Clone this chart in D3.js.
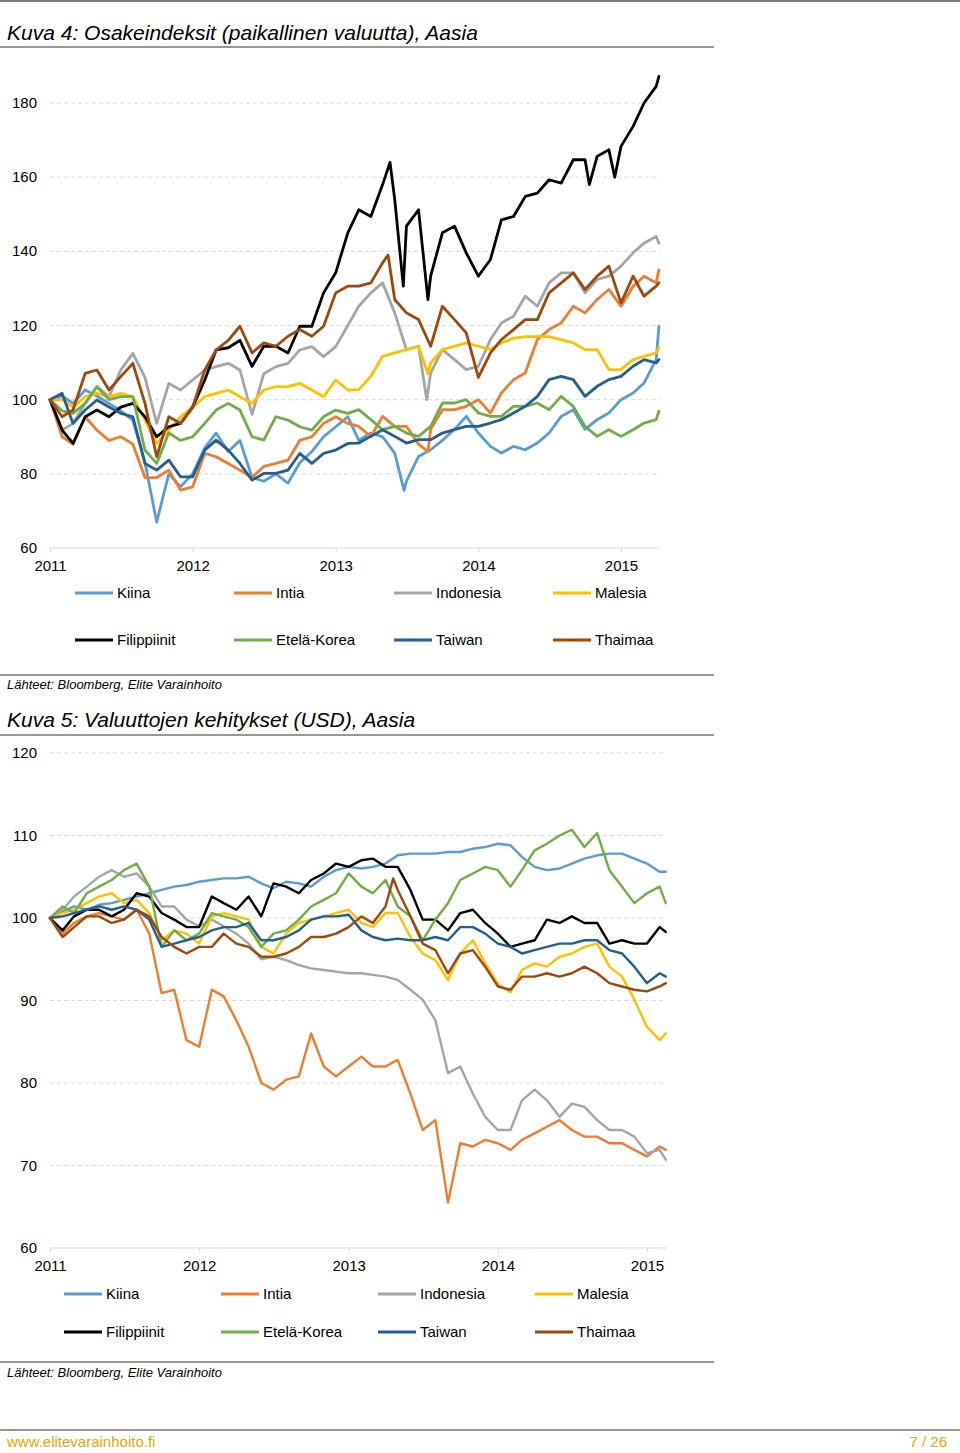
<!DOCTYPE html>
<html><head><meta charset="utf-8">
<script src="https://cdn.jsdelivr.net/npm/d3@7"></script>
<style>
body{margin:0;background:#fff}
svg{display:block}
text{font-family:"Liberation Sans",Arial,Helvetica,sans-serif}
</style>
</head><body>
<svg id="page" width="960" height="1453"></svg>
<script>
// ---------- DATA ----------
const months = ["2011-01","2011-02","2011-03","2011-04","2011-05","2011-06","2011-07","2011-08","2011-09","2011-10","2011-11","2011-12",
"2012-01","2012-02","2012-03","2012-04","2012-05","2012-06","2012-07","2012-08","2012-09","2012-10","2012-11","2012-12",
"2013-01","2013-02","2013-03","2013-04","2013-05","2013-06","2013-07","2013-08","2013-09","2013-10","2013-11","2013-12",
"2014-01","2014-02","2014-03","2014-04","2014-05","2014-06","2014-07","2014-08","2014-09","2014-10","2014-11","2014-12",
"2015-01","2015-02","2015-03","2015-04"];
const lastDay1 = "2015-04-08";
const lastDay2 = "2015-02-16";

const seriesNames = ["Kiina","Intia","Indonesia","Malesia","Filippiinit","Etelä-Korea","Taiwan","Thaimaa"];
const seriesColors = ["#5B9BD5","#ED7D31","#A5A5A5","#FFC000","#000000","#70AD47","#255E91","#9E480E"];
const yearTicks = ["2011","2012","2013","2014","2015"];
const yTicks1 = [60,80,100,120,140,160,180];
const yTicks2 = [60,70,80,90,100,110,120];

// Kuva 4: stock indices (local currency), month starts + last day
const stockKiina = [100,101,99,102.6,101,99,97,94.5,83,67,80,76.5,80,87,91,86,89,79,78,80,77.5,83,86,90,92.7,95.4,89,91,90,85.6,78,84.7,86.5,89,92,95.5,91,87.4,85.6,87.4,86.5,88.3,91,95.5,97.3,92,94.6,96.4,100,101.8,104.5,110.8,119.8];
const stockIntia = [100,90,88,95.4,91.8,89,90,88,79,79,81,75.6,76.5,85.5,84.6,82.8,81,79,82,82.8,83.7,89,90,93.6,95.4,93.6,92.8,90,95.5,92.8,92.8,88,92,97.3,97.3,98.2,100,96.4,101.8,105.4,107.2,116.2,118.9,120.7,125.2,123.4,127,129.7,125.2,130.6,133.3,131.5,135];
const stockIndonesia = [100,91.8,93.6,99,103.5,100.8,108,112.5,106,93.6,104.4,102.6,105.3,108,108.9,109.8,108,96,107,108.9,109.8,113.4,114.3,111.6,114.3,120,125.2,128.8,131.5,123.4,113.5,114.4,107.2,113.5,110.8,108.1,109,116.2,120.7,122.5,127.9,125.2,131.5,134.2,134.2,128.8,132.4,133.3,136,139.6,142.2,144,142.2];
const stockMalesia = [100,100,98,100.8,101.7,100.8,101.7,100.8,94.5,88.2,91.8,95.4,98,100.8,101.7,102.6,100.8,99,102.6,103.5,103.5,104.4,102.6,100.8,105.3,102.6,102.7,106.3,111.7,112.6,113.5,114.4,109.9,113.5,114.4,115.3,114.4,113.5,115.3,116.6,117,117,117,116.2,115.3,113.5,113.5,108.1,108.1,110.8,111.7,112.6,114];
const stockFilippiinit = [100,91.8,88.2,95.4,97.2,95.4,98,99,95.4,90,92.7,93.6,98,105.3,113.4,114,116,109,114.4,114.4,112.6,119.8,119.8,128.8,134.2,145,151.2,149.4,158,154,146.8,151.2,133.3,145,146.8,139.6,133.3,137.8,148.5,149.4,154.8,155.7,159.3,158.4,164.7,164.7,165.6,167.4,168.3,173.7,180,184.5,187.2];
const stockEtelaKorea = [100,97,96.3,99,103.5,100,100.8,100.8,86.4,82.8,91,89,90,93.6,97.2,99,97.2,90,89.1,95.4,94.5,92.7,91.8,95.4,97.2,96.3,97.3,94.6,91.9,92.8,91,90.1,92.8,99.1,99.1,100,96.4,95.5,95.5,98.2,98.2,99.1,97.3,100.9,98.2,92.8,90.1,91.9,90.1,91.9,93.7,94.6,96.9];
const stockTaiwan = [100,101.7,93.6,97.2,99.9,98,96.3,95.4,82.8,81,83.7,79.2,79.2,86.4,89.1,86.4,82.8,78.3,80.1,80.1,81,85.5,82.8,85.5,86.4,88.2,88.3,90.1,91.9,90.1,88.3,89.2,89.2,91,91.9,92.8,92.8,93.7,94.6,96.4,98.2,100.9,105.4,106.3,105.4,100.9,103.6,105.4,106.3,109,110.8,109.9,110.8];
const stockThaimaa = [100,95.4,97.2,107.1,108,102.6,106.2,109.8,99,84.6,95.4,93.6,98,108,113.4,116,119.8,112.6,115.3,114.4,117.1,118.9,117.1,119.8,128.8,130.6,130.6,131.5,136.9,127,123.4,121.6,114.4,125.2,121.6,118,106,112.6,116.2,118.9,121.6,121.6,128.8,131.5,134.2,129.7,133.3,136,126.1,133.3,127.9,130.6,131.5];
// extreme points between month starts
const stockExtremes = [
  ["Filippiinit","2013-05-20",164],
  ["Filippiinit","2013-06-23",130.6],
  ["Filippiinit","2013-08-25",127],
  ["Filippiinit","2014-10-12",158],
  ["Filippiinit","2014-12-16",160],
  ["Thaimaa","2013-05-15",139],
  ["Indonesia","2013-08-22",100],
  ["Intia","2013-08-25",86],
  ["Malesia","2013-08-25",107],
  ["Kiina","2013-06-25",75.5]
];

// Kuva 5: currencies vs USD
const fxKiina = [100,100.8,101.4,101,101.6,101.8,102.2,102.6,103,103.4,103.8,104,104.4,104.6,104.8,104.8,105,104.2,103.6,104.4,104.2,103.8,105,105.8,106.2,106,106.2,106.6,107.6,107.8,107.8,107.8,108,108,108.4,108.6,109,108.8,107.4,106.2,105.8,106,106.6,107.2,107.6,107.8,107.8,107.2,106.6,105.6,105.6];
const fxIntia = [100,98.1,99.4,100.2,100.6,100.2,99.8,101,98.1,90.9,91.3,85.2,84.4,91.3,90.5,87.6,84.4,80,79.2,80.4,80.8,86,82,80.8,82,83.2,82,82,82.8,78.7,74.3,75.5,65.5,72.7,72.3,73.1,72.7,71.9,73.1,73.9,74.7,75.5,74.3,73.5,73.5,72.7,72.7,71.9,71.1,72.3,71.9];
const fxIndonesia = [100,101,102.6,103.8,105,105.8,105,105.4,103.8,101.4,101.4,99.8,99,99.8,99,98.1,96.9,95,95.3,94.9,94.3,93.9,93.7,93.5,93.3,93.3,93.1,92.9,92.5,91.3,90.1,87.6,81.2,82,78.7,75.9,74.3,74.3,77.9,79.2,77.9,75.9,77.5,77.1,75.5,74.3,74.3,73.5,71.5,71.9,70.7];
const fxMalesia = [100,100.6,101,101.8,102.6,103,101.8,102.2,100.6,97.3,98.5,98.1,96.9,100.2,100.6,100.2,99.8,96.5,95.7,98.1,99.4,99.8,100.2,100.6,101,99.4,98.9,100.6,100.6,97.7,95.7,94.9,92.5,95.7,97.3,94.5,92,91,93.7,94.5,94.1,95.3,95.7,96.5,96.9,94.1,92.9,90.1,86.8,85.2,86];
const fxFilippiinit = [100,98.5,100.2,101,101,100.2,101,103,102.6,100.6,99.8,98.9,98.9,102.6,101.8,101,102.6,100.2,104.2,103.8,103,104.6,105.4,106.6,106.2,107,107.2,106.2,106.2,103.4,99.8,99.8,98.5,100.6,101,99.4,98.1,96.5,96.9,97.3,99.8,99.4,100.2,99.4,99.4,96.9,97.3,96.9,96.9,98.9,98.3];
const fxEtelaKorea = [100,101.4,100.6,103,103.8,104.6,105.8,106.6,103.8,96.5,98.5,97.3,98.1,100.6,100.2,99.8,98.9,96.5,98.1,98.5,99.8,101.4,102.2,103,105.4,103.8,103,104.6,101.4,100.2,97.3,99.8,101.8,104.6,105.4,106.2,105.8,103.8,105.8,108.2,109,110,110.7,108.6,110.3,105.8,103.8,101.8,103,103.8,101.8];
const fxTaiwan = [100,100.2,100.6,101,101.4,101,101.4,101,99.8,96.5,96.9,97.3,97.7,98.5,98.9,98.9,99.4,97.3,97.3,97.7,98.5,99.8,100.2,100.2,100.4,98.5,97.7,97.3,97.5,97.3,97.3,97.7,97.3,98.9,98.9,98.1,96.9,96.5,95.7,96.1,96.5,96.9,96.9,97.3,97.3,96.1,95.7,94.1,92.1,93.3,92.9];
const fxThaimaa = [100,97.7,98.9,100.2,100.2,99.4,99.8,101,100.2,97.7,96.5,95.7,96.5,96.5,98.1,96.9,96.5,95.3,95.3,95.7,96.5,97.7,97.7,98.1,98.9,100.2,99.4,101.4,103.4,100.2,96.9,96.1,93.3,95.7,96.1,94.1,91.7,91.3,92.9,92.9,93.3,92.9,93.3,94.1,93.3,92.1,91.7,91.3,91.1,91.7,92.1];
const fxExtremes = [
  ["Thaimaa","2013-04-20",104.8]
];

// ---------- DRAW ----------
const svg = d3.select("#page");
const pm = d3.timeParse("%Y-%m"), pd = d3.timeParse("%Y-%m-%d");
const dates1 = months.map(pm).concat([pd(lastDay1)]);
const dates2 = months.slice(0, 50).map(pm).concat([pd(lastDay2)]);
const FONT = '"Liberation Sans",Arial,Helvetica,sans-serif';

svg.append("line").attr("x1",0).attr("x2",960).attr("y1",1).attr("y2",1).attr("stroke","#7f7f7f").attr("stroke-width",2);

function titleBlock(text, baseline, lineY) {
  svg.append("text").attr("x",7).attr("y",baseline).attr("font-size",21).attr("font-style","italic").attr("fill","#000").text(text);
  svg.append("line").attr("x1",0).attr("x2",714).attr("y1",lineY).attr("y2",lineY).attr("stroke","#333").attr("stroke-width",1.2);
}
function sourceBlock(lineY, baseline) {
  svg.append("line").attr("x1",0).attr("x2",714).attr("y1",lineY).attr("y2",lineY).attr("stroke","#333").attr("stroke-width",1.2);
  svg.append("text").attr("x",7).attr("y",baseline).attr("font-size",13).attr("font-style","italic").attr("fill","#000").text("Lähteet: Bloomberg, Elite Varainhoito");
}

function drawChart(cfg) {
  const g = svg.append("g");
  const x = d3.scaleTime().domain([pm("2011-01"), pm("2015-01")]).range([50, cfg.x2015]);
  const y = d3.scaleLinear().domain(cfg.yDomain).range(cfg.yRange);
  const xEnd = cfg.plotRight;

  g.selectAll(".grid").data(cfg.yTicks.slice(1)).enter().append("line")
    .attr("x1",50).attr("x2",xEnd).attr("y1",d=>y(d)).attr("y2",d=>y(d))
    .attr("stroke","#d9d9d9").attr("stroke-width",1).attr("stroke-dasharray","4,3");
  g.append("line").attr("x1",50).attr("x2",xEnd).attr("y1",y(cfg.yDomain[0])).attr("y2",y(cfg.yDomain[0]))
    .attr("stroke","#d9d9d9").attr("stroke-width",1);

  g.selectAll(".yl").data(cfg.yTicks).enter().append("text")
    .attr("x",37).attr("y",d=>y(d)+5).attr("text-anchor","end").attr("font-size",15).attr("fill","#000").text(d=>d);

  const ax = d3.axisBottom(x).tickValues(yearTicks.map(d=>pm(d+"-01"))).tickSize(4).tickFormat(d3.timeFormat("%Y"));
  const axg = g.append("g").attr("transform",`translate(0,${y(cfg.yDomain[0])})`).call(ax);
  axg.select(".domain").remove();
  axg.selectAll(".tick line").attr("stroke","#d9d9d9");
  axg.selectAll(".tick text").attr("font-size",15).attr("font-family",FONT).attr("fill","#000").attr("dy",0).attr("y",cfg.xLabelDy);

  const line = d3.line().x(d=>x(d[0])).y(d=>y(d[1]));
  cfg.series.forEach((vals, i) => {
    let pts = cfg.dates.map((d, k) => [d, vals[k]]).filter(p => p[1] != null);
    cfg.extremes.filter(e => e[0] === seriesNames[i]).forEach(e => pts.push([pd(e[1]), e[2]]));
    pts.sort((a, b) => a[0] - b[0]);
    g.append("path").attr("d", line(pts)).attr("fill","none").attr("stroke",seriesColors[i])
      .attr("stroke-width",cfg.lw).attr("stroke-linejoin","round").attr("stroke-linecap","round");
  });

  seriesNames.forEach((n, i) => {
    const col = i % 4, row = Math.floor(i / 4);
    const lx = cfg.legX[col], ly = cfg.legY[row];
    g.append("line").attr("x1",lx).attr("x2",lx+38).attr("y1",ly).attr("y2",ly).attr("stroke",seriesColors[i]).attr("stroke-width",3);
    g.append("text").attr("x",lx+42).attr("y",ly+5).attr("font-size",15).attr("fill","#000").text(n);
  });
}

titleBlock("Kuva 4: Osakeindeksit (paikallinen valuutta), Aasia", 40, 47);
drawChart({
  x2015: 621, plotRight: 660, yDomain:[60,180], yRange:[548,103], yTicks:yTicks1, xLabelDy:23,
  dates: dates1, lw: 2.8, extremes: stockExtremes,
  series:[stockKiina,stockIntia,stockIndonesia,stockMalesia,stockFilippiinit,stockEtelaKorea,stockTaiwan,stockThaimaa],
  legX:[75,234,394,553], legY:[593,640]
});
sourceBlock(675, 689);

titleBlock("Kuva 5: Valuuttojen kehitykset (USD), Aasia", 727, 735);
drawChart({
  x2015: 647, plotRight: 666, yDomain:[60,120], yRange:[1248,753], yTicks:yTicks2, xLabelDy:23,
  dates: dates2, lw: 2.4, extremes: fxExtremes,
  series:[fxKiina,fxIntia,fxIndonesia,fxMalesia,fxFilippiinit,fxEtelaKorea,fxTaiwan,fxThaimaa],
  legX:[64,221,378,535], legY:[1294,1332]
});
sourceBlock(1362, 1377);

svg.append("line").attr("x1",0).attr("x2",960).attr("y1",1430).attr("y2",1430).attr("stroke","#333").attr("stroke-width",1.2);
svg.append("text").attr("x",7).attr("y",1447).attr("font-size",15).attr("fill","#E0A800").text("www.elitevarainhoito.fi");
svg.append("text").attr("x",947).attr("y",1447).attr("font-size",15).attr("fill","#E0A800").attr("text-anchor","end").text("7 / 26");
</script>
</body></html>
